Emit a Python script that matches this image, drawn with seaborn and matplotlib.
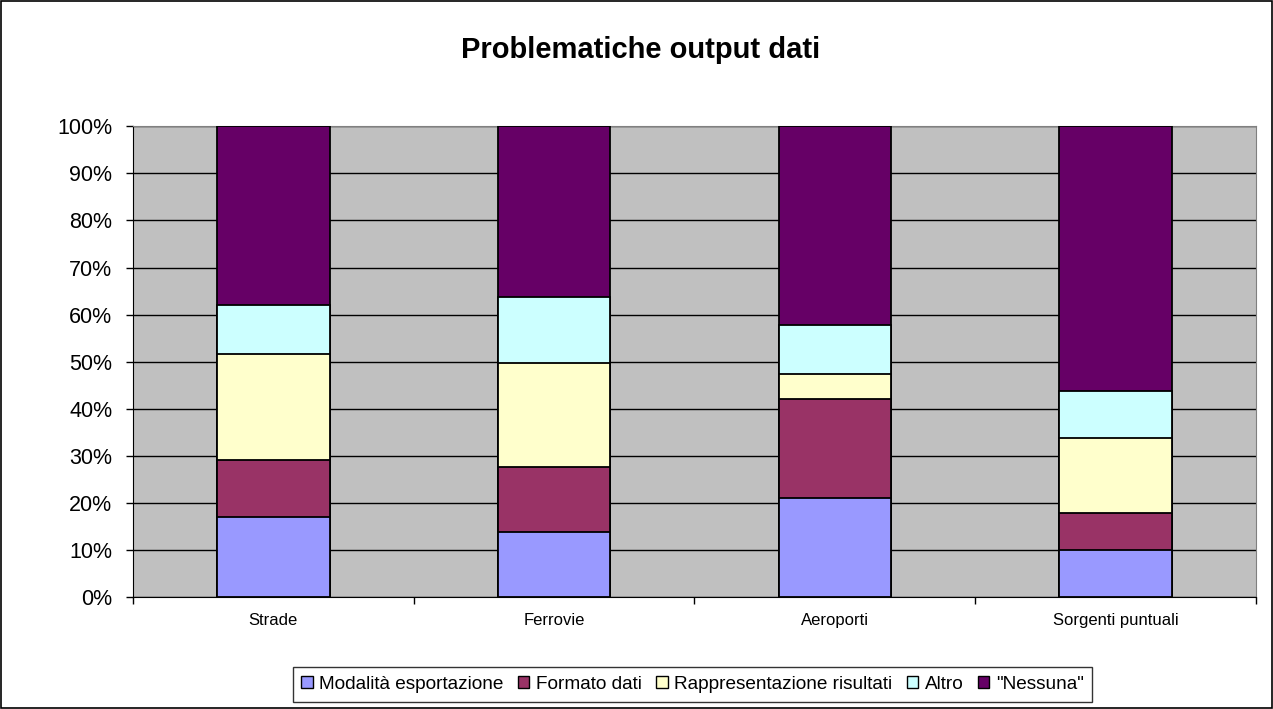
import pandas as pd
import numpy as np
import matplotlib
matplotlib.use('Agg')
import matplotlib.pyplot as plt
from matplotlib.patches import Patch, Rectangle
from matplotlib.ticker import PercentFormatter, FixedLocator
import seaborn as sns

# data (percent of each category)
categories = ['Strade', 'Ferrovie', 'Aeroporti', 'Sorgenti puntuali']
series = ['Modalità esportazione', 'Formato dati', 'Rappresentazione risultati', 'Altro', '"Nessuna"']
modalita = [17.0, 13.9, 21.05, 10.0]
formato = [12.1, 13.7, 21.05, 7.8]
rappresentazione = [22.5, 22.1, 5.26, 16.0]
altro = [10.5, 14.1, 10.53, 10.1]
nessuna = [37.9, 36.2, 42.11, 56.1]
colors = ['#9999FF', '#993366', '#FFFFCC', '#CCFFFF', '#660066']

sns.set_style('white')
plt.rcParams['font.family'] = ['Liberation Sans', 'DejaVu Sans']
plt.rcParams['text.color'] = 'black'
plt.rcParams['xtick.color'] = 'black'
plt.rcParams['ytick.color'] = 'black'

df = pd.DataFrame({'cat': categories, series[0]: modalita, series[1]: formato,
                   series[2]: rappresentazione, series[3]: altro, series[4]: nessuna})
cum = df[series].cumsum(axis=1)
cum = cum.div(cum[series[-1]], axis=0) * 100

fig = plt.figure(figsize=(12.73, 7.09), dpi=100)
ax = fig.add_axes([0.1045, 0.1575, 0.8821, 0.6644])
ax.set_facecolor('#C0C0C0')

# draw cumulative bars from the top layer down so each lower layer covers the previous
for s, c in reversed(list(zip(series, colors))):
    sns.barplot(x=df['cat'], y=cum[s], color=c, width=0.4, edgecolor='black',
                linewidth=1.3, ax=ax, zorder=3, saturation=1)

ax.set_ylim(0, 100)
ax.set_xlim(-0.5, 3.5)
ax.yaxis.set_major_locator(FixedLocator(np.arange(0, 101, 10)))
ax.yaxis.set_major_formatter(PercentFormatter(decimals=0))
ax.grid(axis='y', color='black', linewidth=1, zorder=1)
ax.set_axisbelow(True)
ax.set_xlabel('')
ax.set_ylabel('')

ax.tick_params(axis='y', left=True, length=5, width=1, colors='black', pad=10, labelsize=15.5)
ax.tick_params(axis='x', bottom=False, pad=8, labelsize=12, labelcolor='black')
ax.xaxis.set_minor_locator(FixedLocator([-0.5, 0.5, 1.5, 2.5, 3.5]))
ax.tick_params(axis='x', which='minor', bottom=True, length=5, width=1, color='black')

for side in ['top', 'right']:
    ax.spines[side].set_color('#808080')
for side in ['left', 'bottom']:
    ax.spines[side].set_color('black')

fig.text(0.5035, 0.929, 'Problematiche output dati', ha='center', va='center',
         fontsize=21, fontweight='bold', color='black')

handles = [Patch(facecolor=c, edgecolor='black', linewidth=1) for c in colors]
leg = fig.legend(handles, series, loc='center', bbox_to_anchor=(0.544, 0.0345), ncol=5,
                 fontsize=13.7, frameon=True, fancybox=False, edgecolor='black',
                 handlelength=0.6, handleheight=0.6, handletextpad=0.35, columnspacing=0.75,
                 borderpad=0.45, borderaxespad=0)
leg.get_frame().set_linewidth(1)

fig.patches.append(Rectangle((0.0005, 0.001), 0.9985, 0.997, transform=fig.transFigure,
                             fill=False, edgecolor='black', linewidth=1.2))

fig.savefig('out.png', dpi=100)
